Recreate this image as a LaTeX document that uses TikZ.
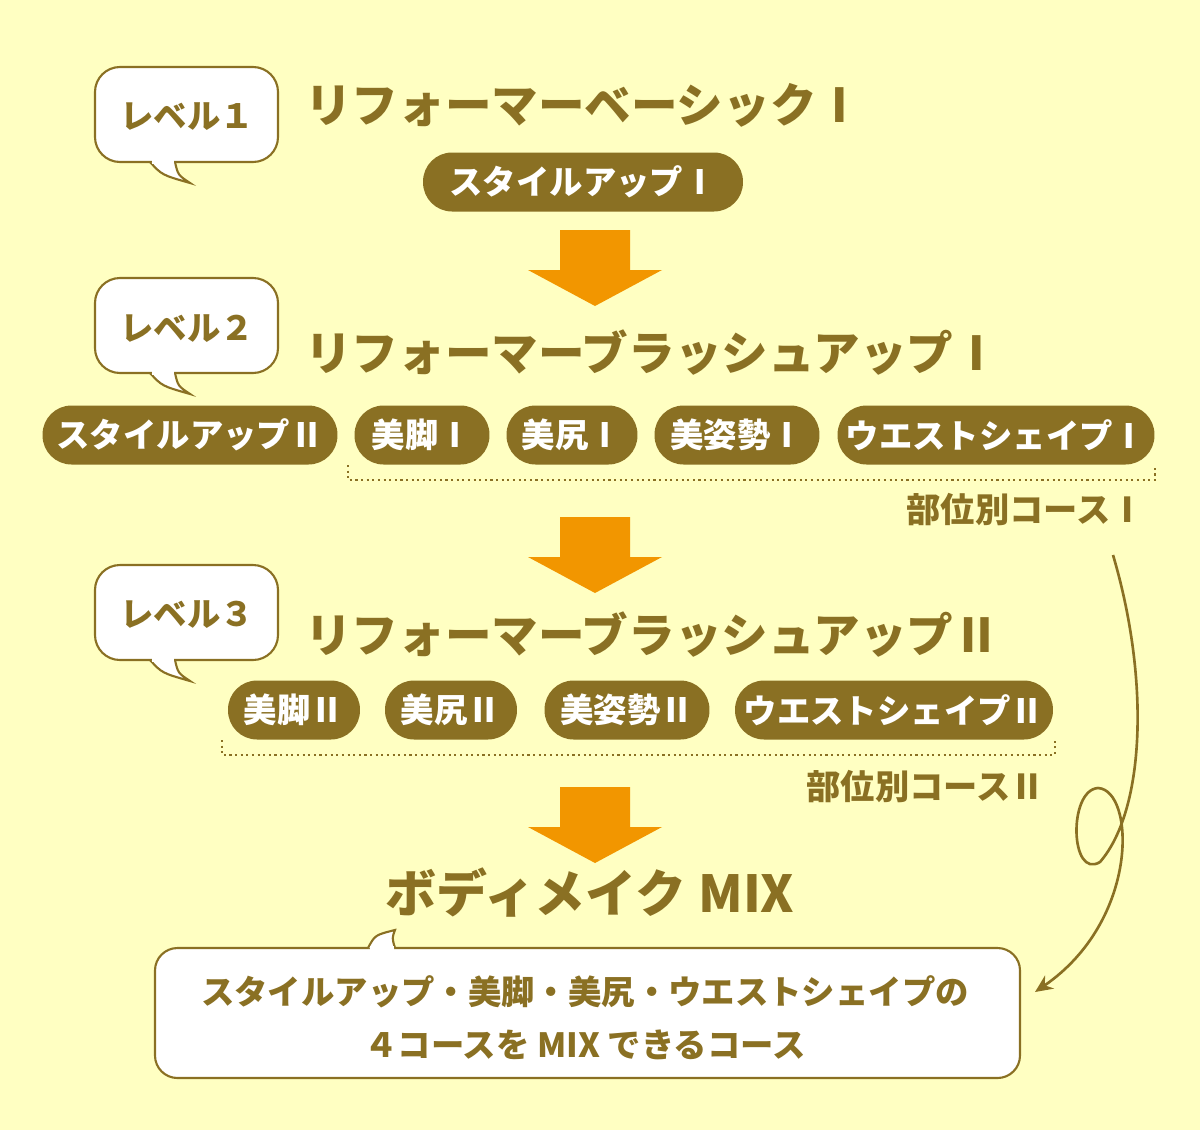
\documentclass[tikz,border=0pt]{standalone}
\usepackage{fontspec}
\setmainfont{Noto Sans CJK JP}[BoldFont={Noto Sans CJK JP Black}]
\usetikzlibrary{positioning,arrows.meta}
\definecolor{bgyellow}{HTML}{FFFFC2}
\definecolor{olive}{HTML}{8A7023}
\definecolor{arroworange}{HTML}{F29600}
\tikzset{pill/.style={fill=olive, text=white, rounded corners=0.58cm, minimum height=1.18cm, inner sep=0pt, font=\bfseries\fontsize{19}{19}\selectfont},
bubble/.style={draw=olive, fill=white, line width=1.2pt},
title/.style={text=olive, anchor=west, inner sep=0pt, font=\bfseries\fontsize{26.5}{26.5}\selectfont},
lvl/.style={text=olive, inner sep=0pt, font=\bfseries\fontsize{19}{19}\selectfont},
course/.style={text=olive, anchor=east, inner sep=0pt, font=\bfseries\fontsize{19.5}{19.5}\selectfont},
bracket/.style={draw=olive, line width=1.2pt, dotted},
bigarrow/.style={fill=arroworange}}
\begin{document}
\begin{tikzpicture}[x=0.02cm,y=-0.02cm]
\useasboundingbox[fill=bgyellow] (0,0) rectangle (1200,1130);
% speech bubbles
\foreach \t/\lab in {67/1,278/2,565/3}{
  \draw[bubble, rounded corners=0.5cm] (95,\t) rectangle (278,\t+95);
  \draw[bubble] (150,\t+95) .. controls (162,\t+108) .. (190,\t+116) .. controls (178,\t+108) .. (175,\t+95);
  \fill[white] (151.5,\t+93) rectangle (173.5,\t+96.5);
}
\node[lvl] (lvl1) at (187,117) {レベル１};
\node[lvl] (lvl2) at (187,329) {レベル２};
\node[lvl] (lvl3) at (187,615) {レベル３};
% titles
\node[title] (title1) at (305,105) {リフォーマーベーシックⅠ};
\node[title] (title2) at (305,353) {リフォーマーブラッシュアップⅠ};
\node[title] (title3) at (305,635) {リフォーマーブラッシュアップⅡ};
% level 1
\node[pill, minimum width=6.4cm] (style1) at (583,182) {スタイルアップⅠ};
% level 2
\node[pill, minimum width=5.9cm] (style2) at (190,435) {スタイルアップⅡ};
\node[pill, minimum width=2.7cm] (leg1) at (422,435) {美脚Ⅰ};
\node[pill, minimum width=2.62cm] (hip1) at (572,435) {美尻Ⅰ};
\node[pill, minimum width=3.3cm] (pose1) at (737,435) {美姿勢Ⅰ};
\node[pill, minimum width=6.34cm] (waist1) at (996,435) {ウエストシェイプⅠ};
\draw[bracket] (348,465) -- (348,480) -- (1155,480) -- (1155,465);
\node[course] (course1) at (1145,510) {部位別コースⅠ};
% level 3
\node[pill, minimum width=2.64cm] (leg2) at (294,710) {美脚Ⅱ};
\node[pill, minimum width=2.64cm] (hip2) at (451,710) {美尻Ⅱ};
\node[pill, minimum width=3.3cm] (pose2) at (627,710) {美姿勢Ⅱ};
\node[pill, minimum width=6.36cm] (waist2) at (894,710) {ウエストシェイプⅡ};
\draw[bracket] (222,740) -- (222,755) -- (1055,755) -- (1055,740);
\node[course] (course2) at (1045,787) {部位別コースⅡ};
% orange arrows
\foreach \t in {230,517,787}
  \fill[bigarrow] (560,\t) -- (630,\t) -- (630,\t+40) -- (662,\t+40) -- (595,\t+76) -- (528,\t+40) -- (560,\t+40) -- cycle;
% mix
\node[text=olive, inner sep=0pt, font=\bfseries\fontsize{29}{29}\selectfont] (mix) at (590,893) {ボディメイク MIX};
\draw[bubble, rounded corners=0.45cm] (155,948) rectangle (1020,1078);
\draw[bubble] (368,948) .. controls (375,935) .. (395,930) .. controls (392,938) .. (395,948);
\fill[white] (369.5,946) rectangle (393.5,950);
\node[text=olive, align=center, font=\bfseries\fontsize{19}{30}\selectfont] (mixtext) at (585,1018) {スタイルアップ・美脚・美尻・ウエストシェイプの\\４コースを MIX できるコース};
% looped arrow
\coordinate (loopstart) at (1113,555);
\coordinate (loopend) at (1035,992);
\draw[olive, line width=1.5pt, -{Stealth[length=10pt,width=9pt]}] (loopstart) .. controls (1150,680) and (1145,810) .. (1100,862) .. controls (1070,880) and (1068,790) .. (1098,788) .. controls (1135,790) and (1140,920) .. (loopend);
\end{tikzpicture}
\end{document}
